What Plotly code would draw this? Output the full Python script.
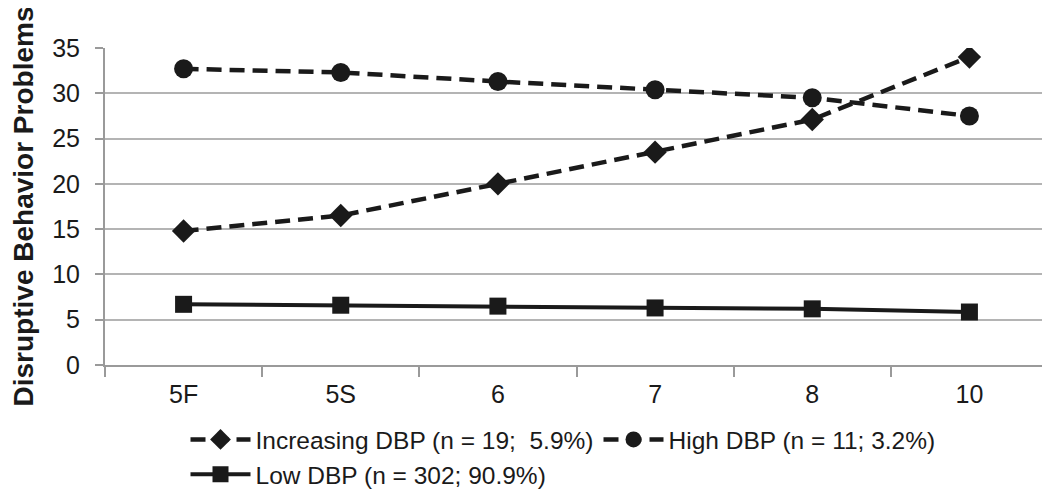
import plotly.graph_objects as go

grades = ["5F", "5S", "6", "7", "8", "10"]
increasing = [14.8, 16.5, 20.0, 23.5, 27.1, 34.0]
high = [32.7, 32.3, 31.3, 30.4, 29.5, 27.5]
low = [6.7, 6.6, 6.5, 6.3, 6.2, 5.85]
y_ticks = [0, 5, 10, 15, 20, 25, 30, 35]

FONT = "Liberation Sans, Arial, Helvetica, sans-serif"
INK = "#1a1a1a"
W, H = 1042, 481

fig = go.Figure()
fig.add_trace(go.Scatter(
    x=grades, y=increasing, mode="lines+markers",
    name="Increasing DBP (n = 19;  5.9%)",
    line=dict(color=INK, width=4.5, dash="15px,8px"),
    marker=dict(symbol="diamond", size=18, color=INK),
))
fig.add_trace(go.Scatter(
    x=grades, y=high, mode="lines+markers",
    name="High DBP (n = 11; 3.2%)",
    line=dict(color=INK, width=4.5, dash="15px,8px"),
    marker=dict(symbol="circle", size=19, color=INK),
))
fig.add_trace(go.Scatter(
    x=grades, y=low, mode="lines+markers",
    name="Low DBP (n = 302; 90.9%)",
    line=dict(color=INK, width=4),
    marker=dict(symbol="square", size=17, color=INK),
))

fig.update_layout(
    width=W, height=H,
    margin=dict(l=97, r=2, t=40, b=124),
    paper_bgcolor="white", plot_bgcolor="white",
    font=dict(family=FONT, color=INK, size=24),
    showlegend=True,
    legend=dict(
        orientation="h", xref="container", yref="container",
        x=177.5 / W, y=1 - 409 / H, xanchor="left", yanchor="top",
        itemwidth=60, entrywidth=338,
        font=dict(size=24.5, family=FONT, color=INK),
        bgcolor="rgba(0,0,0,0)",
    ),
)
fig.update_xaxes(
    type="category", range=[-0.5, 5.5],
    showline=True, linecolor="#9a9a9a", linewidth=2,
    ticks="outside", tickson="boundaries", ticklen=10, tickcolor="#9a9a9a", tickwidth=2,
    showgrid=False, zeroline=False,
    tickfont=dict(size=25, family=FONT, color=INK),
    ticklabelstandoff=6,
)
fig.update_yaxes(
    range=[0, 35], tickvals=y_ticks,
    showline=True, linecolor="#9a9a9a", linewidth=2,
    ticks="outside", ticklen=8, tickcolor="#9a9a9a", tickwidth=2,
    showgrid=True, gridcolor="#b4b4b4", gridwidth=2, zeroline=False,
    tickfont=dict(size=25, family=FONT, color=INK),
    ticklabelstandoff=10,
    title=dict(text="<b>Disruptive Behavior Problems</b>", standoff=22,
               font=dict(size=28, family=FONT, color=INK)),
)

fig.write_html("out.html")
